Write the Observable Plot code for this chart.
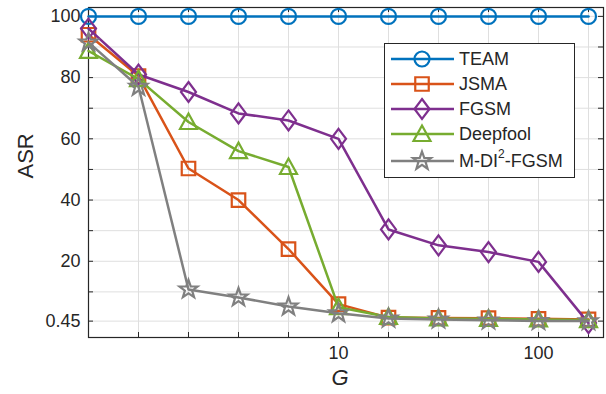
<!DOCTYPE html>
<html>
<head>
<meta charset="utf-8">
<script src="https://cdn.jsdelivr.net/npm/d3@7"></script>
<script src="https://cdn.jsdelivr.net/npm/@observablehq/plot@0.6"></script>
<style>
  html, body { margin: 0; padding: 0; background: #fff; }
  #chart { width: 606px; height: 394px; }
</style>
</head>
<body>
<div id="chart"></div>
<script>
// ---- data ----
const G = [0.5623, 1, 1.778, 3.162, 5.623, 10, 17.78, 31.62, 56.23, 100, 177.8];
const TEAM     = [100, 100, 100, 100, 100, 100, 100, 100, 100, 100, 100];
const JSMA     = [94, 80.5, 50.3, 40, 24, 6, 1.6, 1.5, 1.4, 1.2, 1.0];
const FGSM     = [96, 81, 75.3, 68.3, 66, 60, 30.4, 25.2, 23, 19.8, -0.2];
const DEEPFOOL = [88.7, 79.5, 65.5, 56, 50.8, 5, 1.8, 1.3, 1.2, 1.0, 0.8];
const MDI      = [91.5, 77, 10.8, 8.2, 5.2, 3.0, 1.3, 1.0, 0.7, 0.5, 0.45];
const seriesNames = ["TEAM", "JSMA", "FGSM", "Deepfool", "M-DI2-FGSM"];
const seriesValues = [TEAM, JSMA, FGSM, DEEPFOOL, MDI];
const seriesColors = ["#0072BD", "#D95319", "#7E2F8E", "#77AC30", "#808080"];
const yTicks = [0.45, 10, 20, 30, 40, 50, 60, 70, 80, 90, 100];
const yTickLabels = [0.45, 20, 40, 60, 80, 100];
const xTickLabels = [10, 100];

// ---- marker shapes (MATLAB-like) ----
const symbols = [
  {draw(c) { c.moveTo(7.5, 0); c.arc(0, 0, 7.5, 0, 2 * Math.PI); c.closePath(); }},
  {draw(c) { c.moveTo(-6.75, -6.75); c.lineTo(6.75, -6.75); c.lineTo(6.75, 6.75); c.lineTo(-6.75, 6.75); c.closePath(); }},
  {draw(c) { c.moveTo(0, -10); c.lineTo(7.5, 0); c.lineTo(0, 10); c.lineTo(-7.5, 0); c.closePath(); }},
  {draw(c) { c.moveTo(0, -8.5); c.lineTo(8.5, 7); c.lineTo(-8.5, 7); c.closePath(); }},
  {draw(c) {
    const R = 9.5, r = 3.8;
    for (let i = 0; i < 10; i++) {
      const a = -Math.PI / 2 + i * Math.PI / 5;
      const rr = i % 2 === 0 ? R : r;
      const px = rr * Math.cos(a), py = rr * Math.sin(a);
      if (i === 0) c.moveTo(px, py); else c.lineTo(px, py);
    }
    c.closePath();
  }}
];

const W = 606, H = 394, mL = 88, mR = 3, mT = 7, mB = 57;
const plotW = W - mL - mR, plotH = H - mT - mB;
const ink = "#262626";
const gridColor = "#dfdfdf";
const font = "'Liberation Sans', Arial, Helvetica, sans-serif";

const seriesData = seriesValues.map((vals) => G.map((g, i) => ({x: g, y: vals[i]})));

const marks = [
  Plot.ruleX(G, {x: d => d, stroke: gridColor, strokeWidth: 1}),
  Plot.ruleY(yTicks, {y: d => d, stroke: gridColor, strokeWidth: 1}),
  // inward ticks (bottom, top, left, right)
  Plot.ruleX(G, {x: d => d, insetTop: plotH - 5, stroke: ink, strokeWidth: 1}),
  Plot.ruleX(G, {x: d => d, insetBottom: plotH - 5, stroke: ink, strokeWidth: 1}),
  Plot.ruleY(yTicks, {y: d => d, insetRight: plotW - 5, stroke: ink, strokeWidth: 1}),
  Plot.ruleY(yTicks, {y: d => d, insetLeft: plotW - 5, stroke: ink, strokeWidth: 1}),
  Plot.frame({stroke: ink, strokeWidth: 1.2}),
];
seriesData.forEach((data, k) => {
  marks.push(Plot.line(data, {x: "x", y: "y", stroke: seriesColors[k], strokeWidth: 2.5, strokeLinejoin: "round"}));
  marks.push(Plot.dot(data, {x: "x", y: "y", symbol: symbols[k], r: 5, stroke: seriesColors[k], strokeWidth: 2.2, fill: "none"}));
});
marks.push(
  Plot.text(yTickLabels, {y: d => d, frameAnchor: "left", dx: -8, textAnchor: "end", text: d => String(d), fontSize: 18, fill: ink}),
  Plot.text(xTickLabels, {x: d => d, frameAnchor: "bottom", dy: 21, text: d => String(d), fontSize: 18, fill: ink}),
  Plot.text(["ASR"], {frameAnchor: "left", dx: -63, dy: 6, rotate: -90, text: d => d, fontSize: 22, fill: ink}),
  Plot.text(["G"], {frameAnchor: "bottom", dx: -6, dy: 47, text: d => d, fontSize: 22, fill: ink})
);

const svg = Plot.plot({
  width: W, height: H,
  marginLeft: mL, marginRight: mR, marginTop: mT, marginBottom: mB,
  x: {type: "log", domain: [0.5623, 211.3], axis: null},
  y: {domain: [-4.9, 102.9], axis: null},
  style: {fontFamily: font, fontSize: "18px", color: ink, background: "#fff"},
  marks
});
document.getElementById("chart").appendChild(svg);

// italic axis variable
d3.select(svg).selectAll("text").filter(function() { return this.textContent === "G"; })
  .attr("font-style", "italic").style("font-style", "italic");

// ---- legend ----
const lg = d3.select(svg).append("g").attr("font-family", font).attr("font-size", 18)
  .attr("fill", ink).attr("text-anchor", "start");
lg.append("rect").attr("x", 384.5).attr("y", 43.5).attr("width", 190).attr("height", 134)
  .attr("fill", "#fff").attr("stroke", ink).attr("stroke-width", 1);
const rowY = [59, 84, 109, 134, 161];
seriesNames.forEach((name, k) => {
  const y = rowY[k];
  lg.append("line").attr("x1", 391).attr("x2", 454).attr("y1", y).attr("y2", y)
    .attr("stroke", seriesColors[k]).attr("stroke-width", 2.5);
  const p = d3.path();
  symbols[k].draw(p);
  lg.append("path").attr("d", p.toString()).attr("transform", `translate(422,${y})`)
    .attr("fill", "none").attr("stroke", seriesColors[k]).attr("stroke-width", 2.2);
  const t = lg.append("text").attr("x", 459).attr("y", y).attr("dy", "0.35em").attr("text-anchor", "start");
  if (name === "M-DI2-FGSM") {
    t.append("tspan").text("M-DI");
    t.append("tspan").attr("font-size", 12).attr("dy", "-0.75em").text("2");
    t.append("tspan").attr("dy", "0.5em").text("-FGSM");
  } else {
    t.text(name);
  }
});
</script>
</body>
</html>
